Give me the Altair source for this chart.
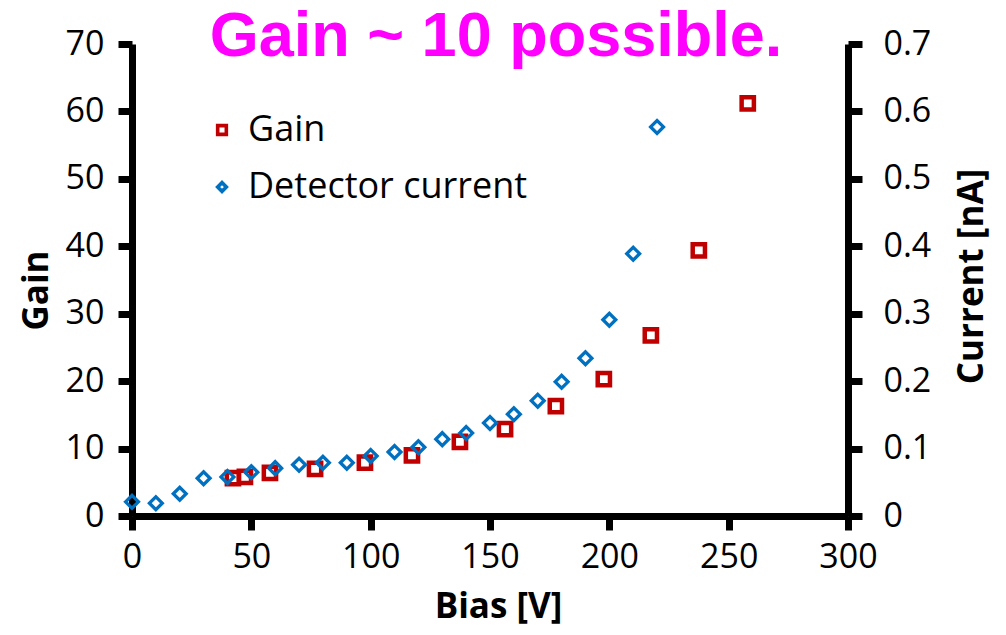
import altair as alt
import pandas as pd

# ---- data ----
gain_bias = [42.3, 47.3, 57.8, 76.7, 97.6, 117.3, 137.4, 156.3, 177.6, 197.7, 217.4, 237.5, 258.0]
gain_values = [5.6, 5.8, 6.4, 7.0, 7.9, 9.0, 11.0, 12.9, 16.3, 20.3, 26.8, 39.4, 61.2]

current_bias = [0, 10, 20, 30, 40, 50, 60, 70, 80, 90, 100, 110, 120, 130, 140,
                150, 160, 170, 180, 190, 200, 210, 220]
current_values = [0.021, 0.019, 0.033, 0.056, 0.058, 0.065, 0.071, 0.076, 0.079, 0.079,
                  0.089, 0.095, 0.102, 0.114, 0.123, 0.138, 0.151, 0.171, 0.199, 0.234,
                  0.291, 0.389, 0.577]

series_names = ["Gain", "Detector current"]
series_colors = ["#C00000", "#0070C0"]
series_shapes = ["square", "diamond"]

x_ticks = [0, 50, 100, 150, 200, 250, 300]
gain_ticks = [0, 10, 20, 30, 40, 50, 60, 70]
current_ticks = [0, 0.1, 0.2, 0.3, 0.4, 0.5, 0.6, 0.7]

title_text = "Gain ~ 10 possible."

# ---- tables ----
gain_df = pd.DataFrame({"bias": gain_bias, "gain": gain_values, "series": series_names[0]})
current_df = pd.DataFrame({"bias": current_bias, "current": current_values, "series": series_names[1]})
title_df = pd.DataFrame({"t": [title_text]})

legend = alt.Legend(orient="none", legendX=72, legendY=68, title=None)
color = alt.Color("series:N", scale=alt.Scale(domain=series_names, range=series_colors), legend=legend)
shape = alt.Shape("series:N", scale=alt.Scale(domain=series_names, range=series_shapes), legend=legend)

x_enc = alt.X(
    "bias:Q",
    scale=alt.Scale(domain=[0, 300], nice=False),
    axis=alt.Axis(values=x_ticks, labelPadding=10, labelFlush=False, labelOverlap=False,
                  title="Bias [V]", titleX=366, titleY=101, titleAlign="center",
                  titleBaseline="alphabetic"),
)

gain_layer = alt.Chart(gain_df).mark_point(filled=False, size=150, strokeWidth=4.5, opacity=1).encode(
    x=x_enc,
    y=alt.Y("gain:Q", scale=alt.Scale(domain=[0, 70], nice=False),
            axis=alt.Axis(values=gain_ticks, orient="left", labelPadding=14, labelOverlap=False,
                          title="Gain", titleAngle=270, titleX=-85, titleY=246,
                          titleAlign="center", titleBaseline="alphabetic")),
    color=color,
    shape=shape,
)

current_layer = alt.Chart(current_df).mark_point(filled=False, size=165, strokeWidth=3.3, opacity=1).encode(
    x=x_enc,
    y=alt.Y("current:Q", scale=alt.Scale(domain=[0, 0.7], nice=False),
            axis=alt.Axis(values=current_ticks, orient="right", format=".1~f", labelPadding=21,
                          labelOverlap=False, title="Current [nA]", titleAngle=270, titleX=134,
                          titleY=232, titleAlign="center", titleBaseline="alphabetic")),
    color=color,
    shape=shape,
)

title_layer = alt.Chart(title_df).mark_text(
    font="Liberation Sans", fontWeight="bold", fontSize=63, color="#FF00FF",
    align="center", baseline="alphabetic",
).encode(x=alt.value(364), y=alt.value(12), text="t:N")

chart = (
    alt.layer(gain_layer, current_layer, title_layer)
    .resolve_scale(y="independent")
    .properties(
        width=716, height=472,
        autosize=alt.AutoSizeParams(type="none"),
        padding={"left": 124, "top": 36, "right": 145, "bottom": 111},
        background="white",
    )
    .configure_view(stroke=None)
    .configure_axis(
        grid=False, domainColor="black", domainWidth=7, tickColor="black", tickWidth=7,
        tickSize=14, labelFont="Open Sans", labelFontSize=34, labelColor="black",
        titleFont="Open Sans", titleFontSize=35, titleFontWeight="bold", titleColor="black",
    )
    .configure_legend(
        labelFont="Open Sans", labelFontSize=36, labelColor="black", labelOffset=8,
        symbolSize=75, symbolStrokeWidth=3.6, rowPadding=21, padding=0, labelLimit=0,
    )
)

chart.save("out.html", embed_options={"renderer": "svg", "actions": False})
